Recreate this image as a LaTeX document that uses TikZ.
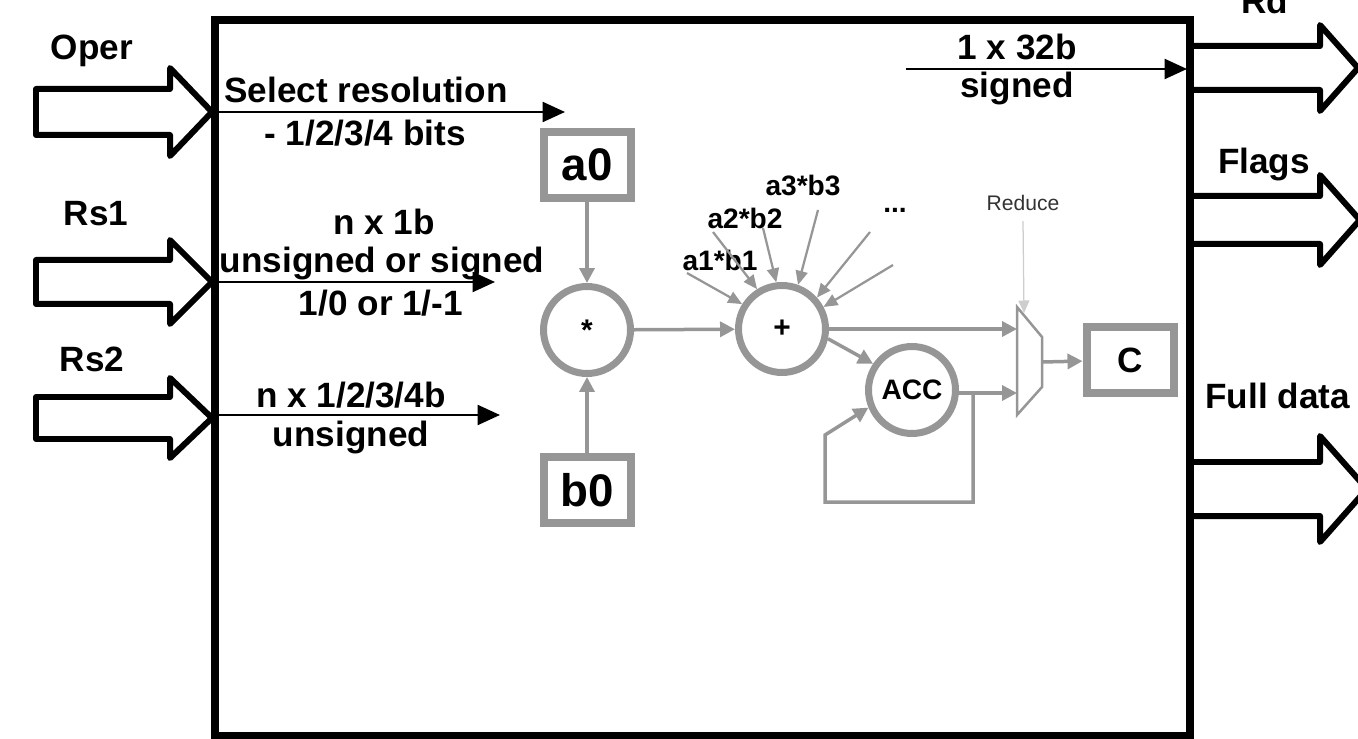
\documentclass[tikz,border=0pt]{standalone}
\usepackage{fontspec}
\setmainfont{Liberation Sans}
\usepackage{xcolor}
\usetikzlibrary{arrows.meta}

\definecolor{unitgray}{RGB}{150,150,150}
\definecolor{selgray}{RGB}{205,205,205}

\begin{document}
\begin{tikzpicture}[x=0.02cm, y=-0.02cm, >=Triangle,
    lbl/.style={font=\fontsize{20}{22}\selectfont\bfseries, inner sep=0pt},
    sig/.style={->, line width=0.05cm, -{Triangle[length=0.45cm, width=0.4cm]}},
    port/.style={line width=0.12cm, line join=round},
    reg/.style={draw=unitgray, line width=0.16cm, minimum width=1.74cm, minimum height=1.34cm, inner sep=0pt, font=\fontsize{26}{28}\selectfont\bfseries},
    op/.style={circle, draw=unitgray, line width=0.14cm, minimum size=1.74cm, inner sep=0pt, font=\fontsize{17}{19}\selectfont\bfseries},
    flow/.style={unitgray, line width=0.07cm, -{Triangle[length=0.3cm, width=0.3cm]}},
    term/.style={unitgray, line width=0.045cm, -{Triangle[length=0.28cm, width=0.24cm]}},
    prod/.style={font=\fontsize{16}{18}\selectfont\bfseries, inner sep=0pt}]
    \useasboundingbox (0,0) rectangle (1358,739);

    % Unit outline
    \draw[line width=0.15cm] (215,20) rectangle (1190,736);

    % Input ports
    \foreach \c/\s/\h in {112/23/44, 282/22/42, 418/21/40}
        \draw[port] (36,\c-\s) -- (170,\c-\s) -- (170,\c-\h) -- (212,\c)
            -- (170,\c+\h) -- (170,\c+\s) -- (36,\c+\s) -- cycle;
    \node[lbl] (oper) at (92,51) {Oper};
    \node[lbl] (rs1) at (96,214) {Rs1};
    \node[lbl] (rs2) at (92,359) {Rs2};

    % Output ports
    \foreach \c/\s/\h in {68/22/43, 220/24/45, 489/27/53}
        \draw[port] (1190,\c-\s) -- (1320,\c-\s) -- (1320,\c-\h) -- (1320+\h/1.13,\c)
            -- (1320,\c+\h) -- (1320,\c+\s) -- (1190,\c+\s);
    \node[lbl, anchor=base] (rd) at (1265,14) {Rd};
    \node[lbl] (flags) at (1264,164) {Flags};
    \node[lbl, anchor=west] (full) at (1205,396) {Full data};

    % Signals inside the unit
    \coordinate (operin) at (213,112);
    \coordinate (operend) at (565,112);
    \coordinate (rsain) at (213,282);
    \coordinate (rsaend) at (495,282);
    \coordinate (rsbin) at (213,415);
    \coordinate (rsbend) at (500,415);
    \coordinate (rdfrom) at (906,69);
    \coordinate (rdout) at (1187,69);
    \draw[sig] (operin) -- (operend);
    \draw[sig] (rsain) -- (rsaend);
    \draw[sig] (rsbin) -- (rsbend);
    \draw[sig] (rdfrom) -- (rdout);

    \node[lbl] (selres) at (366,90) {Select resolution};
    \node[lbl] (selbits) at (365,133) {- 1/2/3/4 bits};
    \node[lbl] (awidth) at (384,222) {n x 1b};
    \node[lbl] (asign) at (382,263) {unsigned or signed};
    \node[lbl] (aval) at (381,303) {1/0 or 1/-1};
    \node[lbl] (bwidth) at (351,395) {n x 1/2/3/4b};
    \node[lbl] (bsign) at (351,437) {unsigned};
    \node[lbl] (rdwidth) at (1017,47) {1 x 32b};
    \node[lbl] (rdsign) at (1017,88) {signed};

    % Datapath
    \node[reg] (a0) at (587,165) {a0};
    \node[reg] (b0) at (587,490) {b0};
    \node[op] (mul) at (587,330) {*};
    \node[op] (add) at (782,329) {+};
    \node[op, font=\fontsize{16}{18}\selectfont\bfseries] (acc) at (912,390) {ACC};
    \node[reg, font=\fontsize{20}{22}\selectfont\bfseries] (c) at (1130,360) {C};

    \draw[flow] (a0) -- (mul);
    \draw[flow] (b0) -- (mul);
    \draw[flow] (mul) -- (add);

    % Other partial products
    \node[prod] (p3) at (803,185) {a3*b3};
    \node[prod] (p2) at (745,218) {a2*b2};
    \node[prod] (p1) at (720,260) {a1*b1};
    \node[prod] (more) at (895,210) {...};
    \coordinate (t1) at (687,273);
    \coordinate (t2) at (713,232);
    \coordinate (t3) at (763,228);
    \coordinate (t4) at (818,210);
    \coordinate (t5) at (870,232);
    \coordinate (t6) at (893,265);
    \draw[term] (t1) -- (add.148);
    \draw[term] (t2) -- (add.122);
    \draw[term] (t3) -- (add.97);
    \draw[term] (t4) -- (add.70);
    \draw[term] (t5) -- (add.42);
    \draw[term] (t6) -- (add.28);

    % Reduce mux
    \coordinate (mA) at (1017,307);
    \coordinate (mB) at (1042,337);
    \coordinate (mC) at (1042,387);
    \coordinate (mD) at (1017,415);
    \draw[unitgray, line width=0.05cm] (mA) -- (mB) -- (mC) -- (mD) -- cycle;
    \coordinate (mout) at (1042,362);
    \coordinate (msel) at (1024,313);
    \node[font=\fontsize{12}{14}\selectfont, text=black!80, inner sep=0pt] (reduce) at (1023,203) {Reduce};
    \draw[selgray, line width=0.025cm, -{Triangle[length=0.25cm, width=0.22cm]}] (reduce.south) ++(0,10) -- (msel);

    \draw[flow] (add.east) -- (add.east -| mA);
    \draw[flow] (add.-12) -- (acc.146);
    \coordinate (lp) at (973,393);
    \draw[flow] (acc.east |- lp) -- (lp -| mA);
    \draw[flow] (lp) |- (825,502) -- (825,435) -- (acc.202);
    \draw[flow] (mout) -- (c);
\end{tikzpicture}
\end{document}
